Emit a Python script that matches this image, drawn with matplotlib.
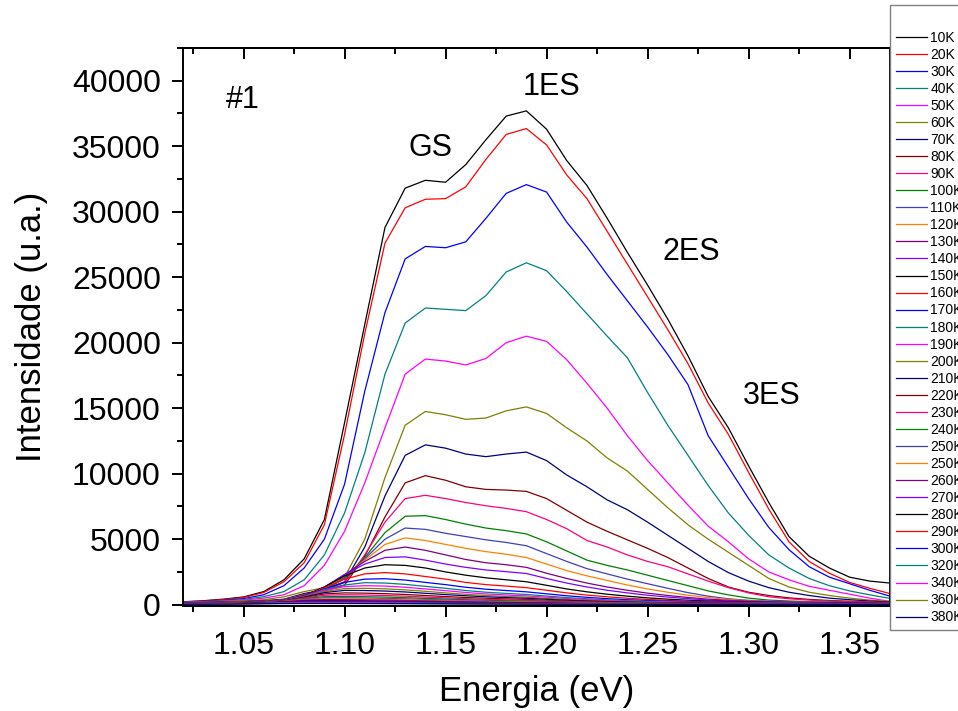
import matplotlib
matplotlib.use('Agg')
import matplotlib.pyplot as plt
from matplotlib.ticker import MultipleLocator, NullFormatter

plt.rcParams['font.family'] = ['Liberation Sans', 'DejaVu Sans']

energy = [1.02, 1.03, 1.04, 1.05, 1.06, 1.07, 1.08, 1.09, 1.10, 1.11, 1.12, 1.13,
          1.14, 1.15, 1.16, 1.17, 1.18, 1.19, 1.20, 1.21, 1.22, 1.23, 1.24, 1.25,
          1.26, 1.27, 1.28, 1.29, 1.30, 1.31, 1.32, 1.33, 1.34, 1.35, 1.36, 1.37]

temps = ['10K', '20K', '30K', '40K', '50K', '60K', '70K', '80K', '90K', '100K',
         '110K', '120K', '130K', '140K', '150K', '160K', '170K', '180K', '190K',
         '200K', '210K', '220K', '230K', '240K', '250K', '250K', '260K', '270K',
         '280K', '290K', '300K', '320K', '340K', '360K', '380K']

# intensity (u.a.) of each spectrum, one row per temperature
spectra = [
    [220, 300, 420, 590, 1000, 1900, 3500, 6500, 13900, 21400, 28800, 31800, 32400, 32250, 33600, 35500, 37300, 37700,
     36300, 33900, 32000, 29500, 26900, 24400, 21800, 19000, 15900, 13500, 10600, 7800, 5200, 3700, 2800, 2100, 1800, 1650],
    [200, 280, 390, 550, 930, 1750, 3200, 6100, 13000, 20700, 27600, 30300, 30950, 31000, 31900, 34000, 35900, 36350,
     35100, 32800, 31000, 28500, 26000, 23500, 21000, 18400, 15400, 13000, 10100, 7300, 4800, 3300, 2400, 1700, 1250, 850],
    [190, 250, 330, 460, 760, 1450, 2800, 5000, 9200, 16300, 22300, 26400, 27350, 27250, 27700, 29500, 31400, 32070,
     31500, 29200, 27300, 25200, 23200, 21200, 19100, 16800, 12900, 10500, 8100, 5900, 4200, 2900, 2100, 1600, 1100, 650],
    [180, 230, 300, 400, 610, 1000, 1900, 3800, 7000, 11600, 17600, 21500, 22650, 22550, 22450, 23600, 25400, 26100,
     25500, 23900, 22200, 20500, 18850, 16200, 13700, 11400, 9100, 7000, 5300, 3800, 2800, 2000, 1450, 1050, 750, 480],
    [170, 210, 270, 350, 500, 760, 1450, 3000, 5600, 9300, 13500, 17600, 18750, 18600, 18300, 18800, 20000, 20500,
     20100, 18700, 16900, 15000, 12900, 11000, 9300, 7600, 6000, 4800, 3500, 2500, 1900, 1400, 1100, 800, 500, 250],
    [160, 190, 240, 300, 380, 600, 1000, 1300, 2100, 5000, 9700, 13700, 14750, 14500, 14150, 14250, 14800, 15100,
     14600, 13500, 12500, 11200, 10200, 8800, 7400, 6100, 5000, 4000, 3000, 2000, 1350, 950, 700, 500, 350, 250],
    [150, 170, 200, 240, 300, 420, 850, 1150, 1750, 4400, 8300, 11400, 12200, 11950, 11500, 11300, 11500, 11650,
     11000, 9900, 9000, 8000, 7250, 6300, 5300, 4300, 3300, 2450, 1800, 1300, 950, 700, 500, 380, 280, 200],
    [140, 160, 190, 220, 270, 380, 800, 1050, 1500, 3700, 6700, 9300, 9850, 9500, 9000, 8800, 8750, 8650,
     8100, 7200, 6300, 5600, 4950, 4300, 3600, 2800, 2000, 1350, 950, 700, 520, 400, 320, 260, 210, 170],
    [130, 150, 180, 210, 260, 370, 780, 1050, 1700, 3800, 6300, 8100, 8350, 8100, 7800, 7550, 7350, 7100,
     6500, 5800, 4900, 4400, 3800, 3300, 2900, 2350, 1800, 1300, 900, 600, 450, 350, 280, 230, 190, 160],
    [120, 140, 170, 200, 250, 360, 760, 1100, 2000, 3600, 5500, 6750, 6800, 6500, 6150, 5850, 5650, 5400,
     4800, 4100, 3400, 3000, 2650, 2250, 1850, 1450, 1050, 750, 500, 350, 280, 230, 200, 170, 150, 130],
    [120, 135, 160, 190, 240, 350, 740, 1150, 2100, 3500, 5000, 5850, 5750, 5450, 5200, 4950, 4750, 4500,
     3900, 3300, 2750, 2350, 1950, 1600, 1250, 920, 650, 450, 330, 270, 230, 200, 180, 160, 140, 120],
    [110, 130, 150, 180, 230, 340, 720, 1200, 2200, 3400, 4600, 5100, 4900, 4600, 4300, 4050, 3850, 3600,
     3100, 2600, 2200, 1850, 1500, 1200, 950, 720, 540, 400, 300, 250, 210, 180, 160, 140, 120, 110],
    [110, 125, 145, 175, 225, 340, 700, 1300, 2300, 3300, 4150, 4400, 4150, 3800, 3450, 3200, 3050, 2850,
     2400, 2000, 1650, 1350, 1100, 880, 700, 550, 420, 330, 270, 230, 200, 170, 150, 130, 115, 100],
    [100, 120, 140, 170, 220, 340, 690, 1350, 2300, 3100, 3600, 3650, 3400, 3100, 2850, 2650, 2520, 2380,
     2000, 1650, 1350, 1100, 900, 720, 580, 460, 360, 290, 240, 200, 175, 150, 135, 120, 105, 95],
    [100, 115, 135, 165, 215, 340, 680, 1350, 2200, 2800, 3050, 3000, 2800, 2500, 2250, 2050, 1900, 1750,
     1480, 1200, 980, 800, 650, 520, 420, 340, 280, 230, 200, 170, 150, 130, 120, 110, 100, 90],
    [95, 110, 130, 160, 210, 340, 670, 1300, 1950, 2350, 2450, 2350, 2150, 1950, 1700, 1530, 1420, 1300,
     1100, 900, 730, 600, 490, 400, 330, 270, 230, 200, 170, 150, 135, 120, 110, 100, 90, 80],
    [90, 105, 125, 155, 205, 335, 660, 1200, 1700, 1950, 1980, 1880, 1700, 1530, 1330, 1180, 1080, 980,
     830, 680, 560, 460, 380, 320, 270, 230, 200, 175, 155, 140, 125, 115, 105, 95, 85, 75],
    [85, 100, 120, 150, 200, 330, 650, 1150, 1500, 1680, 1650, 1550, 1400, 1250, 1080, 950, 860, 780,
     660, 540, 450, 370, 310, 260, 220, 190, 170, 150, 135, 120, 110, 100, 90, 85, 75, 70],
    [80, 95, 115, 145, 195, 310, 620, 1080, 1380, 1450, 1420, 1330, 1200, 1070, 930, 820, 740, 670,
     570, 470, 390, 320, 270, 230, 195, 170, 150, 135, 120, 110, 100, 90, 85, 80, 70, 65],
    [80, 90, 110, 140, 190, 300, 600, 1000, 1230, 1250, 1210, 1130, 1020, 900, 790, 700, 630, 570,
     480, 400, 330, 275, 230, 200, 170, 150, 135, 120, 110, 100, 90, 85, 80, 75, 65, 60],
    [75, 85, 105, 135, 185, 290, 580, 920, 1090, 1080, 1040, 970, 870, 770, 680, 600, 540, 490,
     410, 340, 285, 240, 200, 175, 150, 135, 120, 110, 100, 90, 85, 80, 75, 70, 60, 55],
    [70, 80, 100, 130, 180, 280, 540, 820, 900, 880, 840, 780, 700, 620, 550, 490, 440, 400,
     340, 285, 240, 200, 170, 150, 130, 115, 105, 95, 90, 80, 75, 70, 65, 60, 55, 50],
    [65, 75, 95, 125, 170, 270, 500, 720, 760, 740, 700, 650, 580, 520, 460, 410, 370, 335,
     285, 240, 200, 170, 145, 125, 110, 100, 90, 85, 80, 70, 65, 60, 55, 50, 45, 45],
    [60, 70, 90, 120, 165, 260, 460, 610, 630, 610, 580, 535, 480, 430, 380, 340, 305, 275,
     235, 200, 170, 145, 125, 110, 95, 85, 80, 75, 70, 65, 60, 55, 50, 45, 40, 40],
    [55, 65, 85, 115, 160, 250, 420, 520, 525, 505, 480, 440, 400, 355, 315, 280, 250, 225,
     195, 165, 140, 120, 105, 90, 80, 75, 70, 65, 60, 55, 50, 45, 45, 40, 35, 35],
    [50, 60, 80, 110, 155, 240, 390, 450, 450, 435, 410, 380, 345, 305, 270, 240, 215, 195,
     165, 140, 120, 105, 90, 80, 70, 65, 60, 55, 50, 45, 45, 40, 40, 35, 30, 30],
    [48, 58, 75, 105, 150, 230, 350, 385, 380, 365, 345, 320, 290, 260, 230, 205, 185, 165,
     140, 120, 105, 90, 80, 70, 62, 56, 52, 48, 45, 42, 40, 37, 35, 32, 30, 28],
    [45, 55, 70, 100, 140, 215, 305, 325, 320, 305, 290, 270, 245, 220, 195, 175, 158, 142,
     122, 105, 90, 78, 68, 60, 54, 49, 45, 42, 40, 37, 35, 33, 31, 29, 27, 25],
    [42, 50, 65, 95, 130, 200, 265, 275, 270, 258, 245, 228, 207, 186, 166, 149, 135, 122,
     105, 90, 78, 68, 60, 53, 48, 44, 41, 38, 36, 34, 32, 30, 28, 27, 25, 24],
    [40, 48, 62, 90, 120, 180, 225, 235, 230, 220, 208, 194, 176, 158, 142, 128, 116, 105,
     91, 78, 68, 60, 53, 47, 43, 40, 37, 35, 33, 31, 29, 28, 26, 25, 23, 22],
    [38, 45, 58, 85, 112, 160, 195, 202, 198, 190, 180, 168, 153, 138, 124, 112, 101, 92,
     80, 69, 60, 53, 47, 42, 38, 35, 33, 31, 29, 28, 26, 25, 24, 23, 21, 20],
    [35, 42, 54, 78, 100, 135, 158, 162, 158, 152, 144, 134, 122, 110, 99, 90, 81, 74,
     64, 56, 49, 43, 39, 35, 32, 30, 28, 26, 25, 24, 23, 22, 21, 20, 19, 18],
    [32, 38, 50, 70, 90, 115, 128, 132, 129, 124, 117, 109, 99, 90, 81, 73, 66, 60,
     53, 46, 41, 36, 33, 30, 28, 26, 24, 23, 22, 21, 20, 19, 18, 17, 16, 15],
    [30, 36, 46, 64, 80, 98, 108, 110, 108, 104, 98, 91, 83, 75, 68, 62, 56, 51,
     45, 40, 35, 31, 28, 26, 24, 22, 21, 20, 19, 18, 17, 16, 15, 15, 14, 13],
    [28, 33, 42, 58, 72, 84, 90, 92, 90, 86, 81, 75, 69, 63, 57, 52, 47, 43,
     38, 34, 30, 27, 25, 23, 21, 20, 19, 18, 17, 16, 15, 14, 14, 13, 12, 12],
]

# Origin-like colour cycle
palette = ['#000000', '#ff0000', '#0000ff', '#008080', '#ff00ff', '#808000', '#000080',
           '#800000', '#ff0080', '#008000', '#3f3fc0', '#ff8000', '#800080', '#8000ff']

fig = plt.figure(figsize=(9.58, 7.11), dpi=100)
ax = fig.add_axes([0.191, 0.1477, 0.738, 0.7848])

lines = []
for i, (lab, row) in enumerate(zip(temps, spectra)):
    ln, = ax.plot(energy, row, color=palette[i % len(palette)], lw=0.9, label=lab)
    lines.append(ln)

ax.set_xlim(1.02, 1.37)
ax.set_ylim(-100, 42500)
ax.xaxis.set_major_locator(MultipleLocator(0.05))
ax.xaxis.set_minor_locator(MultipleLocator(0.025))
ax.yaxis.set_major_locator(MultipleLocator(5000))
ax.yaxis.set_minor_locator(MultipleLocator(2500))
ax.xaxis.set_major_formatter(plt.FuncFormatter(lambda v, p: f'{v:.2f}'))
ax.yaxis.set_major_formatter(plt.FuncFormatter(lambda v, p: f'{v:.0f}'))

for s in ax.spines.values():
    s.set_linewidth(1.4)
ax.tick_params(which='both', direction='out', width=1.4, labelsize=23, top=False, right=False)
ax.tick_params(which='major', length=8)
ax.tick_params(which='minor', length=4.5)
ax.tick_params(axis='x', which='major', pad=10)
ax.tick_params(axis='y', which='major', pad=8)

# top axis: inward ticks, no labels
top = ax.secondary_xaxis('top')
top.xaxis.set_major_locator(MultipleLocator(0.05))
top.xaxis.set_minor_locator(MultipleLocator(0.025))
top.xaxis.set_major_formatter(NullFormatter())
top.tick_params(which='both', direction='in', width=1.4)
top.tick_params(which='major', length=8)
top.tick_params(which='minor', length=4.5)
top.spines['top'].set_linewidth(1.4)

ax.set_xlabel('Energia (eV)', fontsize=25, labelpad=10)
ax.set_ylabel('Intensidade (u.a.)', fontsize=25, labelpad=17)

ax.text(1.0496, 38500, '#1', fontsize=22, ha='center', va='center')
ax.text(1.1426, 34900, 'GS', fontsize=22, ha='center', va='center')
ax.text(1.2025, 39500, '1ES', fontsize=22, ha='center', va='center')
ax.text(1.2718, 26900, '2ES', fontsize=22, ha='center', va='center')
ax.text(1.3114, 15900, '3ES', fontsize=22, ha='center', va='center')

leg = fig.legend(lines, temps, loc='upper left', bbox_to_anchor=(0.929, 0.993),
                 borderaxespad=0, fontsize=10, title=' ', title_fontsize=13,
                 frameon=True, fancybox=False, edgecolor='#808080', framealpha=1,
                 labelspacing=0.22, handlelength=2.3, handletextpad=0.2, borderpad=0.4)
leg.get_frame().set_linewidth(1.0)

fig.savefig('out.png', dpi=100)
